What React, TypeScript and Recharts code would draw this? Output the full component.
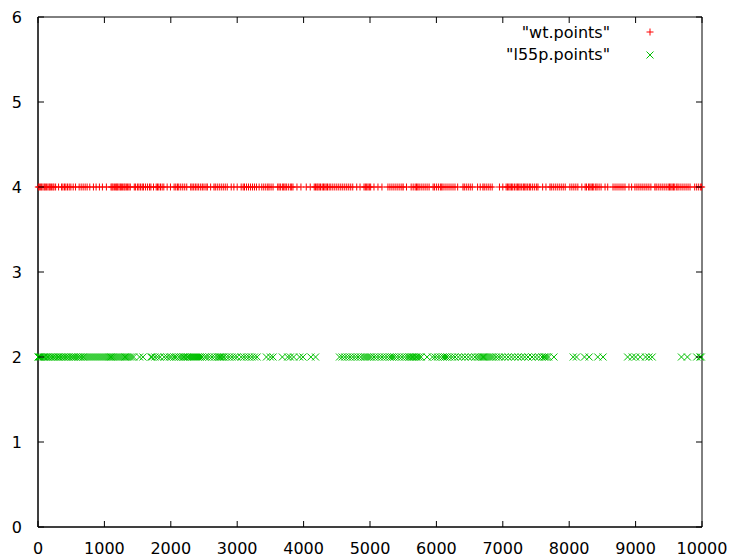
import React from "react";
import { ScatterChart, Scatter, XAxis, YAxis, ReferenceArea } from "recharts";

// x positions of the two point sets (levels 4 and 2)
const wtX = [
  5, 20, 40, 55, 75, 95, 110, 130, 150, 170, 185, 205, 225, 240, 265, 310,
  355, 375, 400, 420, 445, 470, 495, 530, 565, 620, 650, 680, 710, 740, 780, 835,
  875, 925, 970, 1030, 1100, 1115, 1130, 1150, 1170, 1185, 1200, 1220, 1240, 1255,
  1275, 1295, 1310, 1330, 1350, 1370, 1390, 1450, 1470, 1500, 1520, 1545, 1570, 1590,
  1620, 1650, 1680, 1700, 1740, 1780, 1800, 1820, 1845, 1870, 1895, 1945, 1995,
  2050, 2075, 2100, 2120, 2150, 2180, 2210, 2240, 2300, 2320, 2345, 2370, 2395,
  2420, 2450, 2475, 2500, 2530, 2550, 2600, 2650, 2670, 2700, 2730, 2760, 2790,
  2820, 2850, 2910, 2950, 3000, 3060, 3090, 3110, 3140, 3170, 3200, 3230, 3260,
  3290, 3330, 3370, 3400, 3430, 3460, 3480, 3510, 3540, 3610, 3630, 3650, 3680,
  3700, 3720, 3740, 3770, 3800, 3820, 3840, 3900, 3960, 4040, 4100, 4160, 4180,
  4200, 4215, 4235, 4255, 4280, 4300, 4320, 4340, 4360, 4385, 4410, 4440, 4470,
  4500, 4530, 4560, 4590, 4620, 4650, 4680, 4710, 4740, 4800, 4850, 4910, 4930,
  4950, 4970, 4990, 5010, 5060, 5120, 5180, 5270, 5300, 5330, 5360, 5390, 5420,
  5450, 5480, 5500, 5550, 5620, 5650, 5680, 5700, 5720, 5740, 5770, 5800, 5830,
  5860, 5890, 5950, 5970, 6000, 6030, 6060, 6080, 6100, 6130, 6160, 6190, 6220,
  6250, 6280, 6320, 6400, 6420, 6450, 6480, 6510, 6540, 6620, 6660, 6700, 6720,
  6750, 6780, 6810, 6840, 6950, 7000, 7050, 7070, 7090, 7110, 7130, 7150, 7175,
  7200, 7220, 7240, 7260, 7285, 7310, 7330, 7350, 7375, 7400, 7420, 7450, 7480,
  7510, 7530, 7600, 7650, 7710, 7730, 7760, 7790, 7820, 7850, 7880, 7910, 7940,
  8010, 8040, 8070, 8100, 8130, 8190, 8240, 8260, 8290, 8310, 8330, 8350, 8370,
  8400, 8420, 8450, 8480, 8540, 8580, 8660, 8690, 8720, 8750, 8780, 8810, 8840,
  8900, 8940, 8990, 9020, 9050, 9080, 9110, 9140, 9170, 9200, 9230, 9290, 9310,
  9340, 9370, 9400, 9430, 9460, 9490, 9510, 9530, 9550, 9570, 9590, 9620, 9640,
  9670, 9700, 9730, 9760, 9790, 9820, 9890, 9920, 9950, 9980, 9995,
];

const l55pX = [
  0, 15, 30, 50, 70, 90, 110, 130, 150, 175, 200, 225, 250, 275, 300, 320, 345,
  370, 395, 420, 445, 470, 500, 520, 545, 570, 600, 625, 650, 680, 700, 730, 760,
  790, 820, 850, 880, 910, 940, 970, 1000, 1030, 1060, 1080, 1100, 1120, 1140,
  1170, 1200, 1230, 1260, 1290, 1310, 1330, 1350, 1380, 1410, 1440, 1530, 1580,
  1700, 1720, 1760, 1800, 1840, 1900, 1940, 1980, 2010, 2050, 2080, 2120, 2150,
  2180, 2200, 2220, 2240, 2260, 2290, 2320, 2350, 2380, 2410, 2440, 2470, 2510,
  2540, 2580, 2620, 2660, 2700, 2720, 2740, 2760, 2780, 2800, 2840, 2880, 2920,
  2960, 3000, 3060, 3100, 3140, 3180, 3220, 3260, 3300, 3440, 3500, 3540, 3680,
  3760, 3800, 3850, 3940, 3990, 4110, 4180, 4540, 4580, 4620, 4660, 4700, 4740,
  4780, 4820, 4860, 4900, 4930, 4960, 4990, 5020, 5060, 5100, 5140, 5180, 5220,
  5260, 5300, 5330, 5360, 5400, 5440, 5480, 5520, 5560, 5590, 5610, 5630, 5650,
  5670, 5690, 5710, 5740, 5770, 5860, 5940, 5980, 6020, 6060, 6100, 6130, 6160,
  6200, 6240, 6280, 6330, 6380, 6430, 6480, 6530, 6580, 6620, 6650, 6680, 6700,
  6720, 6740, 6770, 6800, 6830, 6860, 6900, 6940, 6980, 7030, 7080, 7130, 7180,
  7230, 7280, 7330, 7380, 7440, 7490, 7540, 7590, 7620, 7640, 7660, 7690, 7770,
  8060, 8110, 8230, 8300, 8430, 8510, 8880, 8950, 9000, 9070, 9150, 9200, 9250,
  9690, 9780, 9920, 9970, 9990,
];

const xTicks = [0, 1000, 2000, 3000, 4000, 5000, 6000, 7000, 8000, 9000, 10000];
const yTicks = [0, 1, 2, 3, 4, 5, 6];

const wtData = wtX.map((x) => ({ x, y: 4 }));
const l55pData = l55pX.map((x) => ({ x, y: 2 }));

const W = 729;
const H = 560;
const TOP = 17;
const LEFT = 38;
const RIGHT = 702;
const BOTTOM = 527;
const FONT = "'DejaVu Sans', sans-serif";
const FS = 16;
const RED = "#ff0000";
const GREEN = "#00c000";

const Plus = ({ cx, cy }: any) => (
  <path d={`M${cx - 3.5},${cy}H${cx + 3.5}M${cx},${cy - 3.5}V${cy + 3.5}`} stroke={RED} strokeWidth={1} fill="none" />
);

const Cross = ({ cx, cy }: any) => (
  <path d={`M${cx - 3.5},${cy - 3.5}L${cx + 3.5},${cy + 3.5}M${cx - 3.5},${cy + 3.5}L${cx + 3.5},${cy - 3.5}`} stroke={GREEN} strokeWidth={1} fill="none" />
);

// gnuplot-style ticks: drawn inward, mirrored on the opposite border
const XTick = ({ x, y, payload }: any) => (
  <g>
    <line x1={x} y1={y} x2={x} y2={y - 6} stroke="#000" />
    <line x1={x} y1={TOP} x2={x} y2={TOP + 6} stroke="#000" />
    <text x={x} y={y + 27} textAnchor="middle" fontSize={FS} fontFamily={FONT} fill="#000">
      {payload.value}
    </text>
  </g>
);

const YTick = ({ x, y, payload }: any) => (
  <g>
    <line x1={x} y1={y} x2={x + 6} y2={y} stroke="#000" />
    <line x1={RIGHT} y1={y} x2={RIGHT - 6} y2={y} stroke="#000" />
    <text x={x - 16} y={y + 6} textAnchor="end" fontSize={FS} fontFamily={FONT} fill="#000">
      {payload.value}
    </text>
  </g>
);

export default function App() {
  return (
    <div style={{ position: "absolute", left: 0, top: 0, width: W, height: H, background: "#fff" }}>
      <ScatterChart width={W} height={H} margin={{ top: TOP, right: W - RIGHT, bottom: 8, left: 8 }}>
        <XAxis
          type="number"
          dataKey="x"
          domain={[0, 10000]}
          ticks={xTicks}
          height={H - 8 - BOTTOM}
          tickSize={0}
          tickMargin={0}
          axisLine={{ stroke: "#000" }}
          tick={<XTick />}
          interval={0}
        />
        <YAxis
          type="number"
          dataKey="y"
          domain={[0, 6]}
          ticks={yTicks}
          width={LEFT - 8}
          tickSize={0}
          tickMargin={0}
          axisLine={{ stroke: "#000" }}
          tick={<YTick />}
          interval={0}
        />
        <ReferenceArea x1={0} x2={10000} y1={0} y2={6} stroke="#000" strokeWidth={1} fill="none" fillOpacity={0} />
        <Scatter data={wtData} shape={<Plus />} isAnimationActive={false} />
        <Scatter data={l55pData} shape={<Cross />} isAnimationActive={false} />
      </ScatterChart>
      <svg width={W} height={H} style={{ position: "absolute", left: 0, top: 0, pointerEvents: "none" }}>
        <text x={610} y={38} textAnchor="end" fontSize={FS} fontFamily={FONT} fill="#000">
          "wt.points"
        </text>
        <path d="M646.5,32H653.5M650,28.5V35.5" stroke={RED} fill="none" />
        <text x={610} y={60} textAnchor="end" fontSize={FS} fontFamily={FONT} fill="#000">
          "l55p.points"
        </text>
        <path d="M646.5,51.5L653.5,58.5M646.5,58.5L653.5,51.5" stroke={GREEN} fill="none" />
      </svg>
    </div>
  );
}
